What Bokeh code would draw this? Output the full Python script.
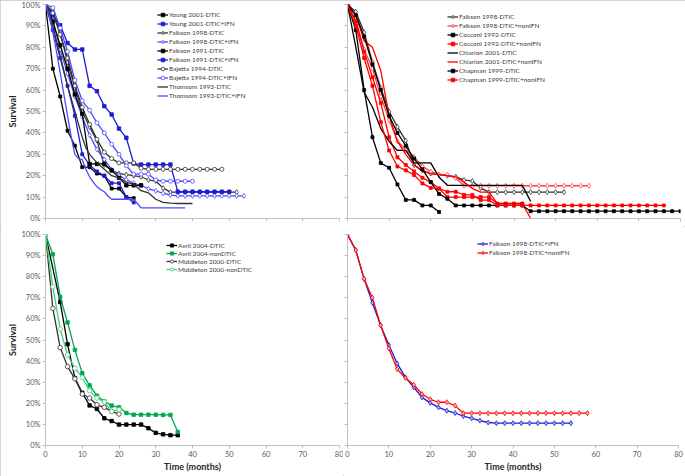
from bokeh.plotting import figure
from bokeh.models import Range1d, FixedTicker
from bokeh.layouts import column, row
from bokeh.embed import file_html
from bokeh.resources import INLINE

FONT = "Lato"

# ---------------- data (months, survival %) ----------------
# top-left panel
young_dtic_t = [0, 2, 4, 6, 8, 10, 12, 14, 16, 18, 20, 22, 24]
young_dtic_s = [100, 70, 57, 41, 34, 24, 24, 21, 20, 14, 14, 10, 9.5]
young_ifn_t = [0, 2, 4, 6, 8, 10, 12, 14, 16, 18, 20, 22, 24]
young_ifn_s = [100, 88, 75, 62, 48, 30, 25, 22, 20, 16.5, 16.5, 10, 7.5]
falk98_dtic_t = [0, 2, 4, 6, 8, 10, 12, 14, 16, 18, 20, 22, 24, 26, 28, 30, 32, 34, 36, 38, 40, 42, 44, 46, 48, 50, 52]
falk98_dtic_s = [100, 96.6, 87, 73, 61, 50, 42.8, 36.4, 25, 22.5, 21, 20.5, 20, 19.5, 18, 17.5, 14.2, 12.3, 12.3, 12.3, 12.3, 12.3, 12.3, 12.3, 12.3, 12.3, 12.3]
falk98_ifn_t = [0, 2, 4, 6, 8, 10, 12, 14, 16, 18, 20, 22, 24, 26, 28, 30, 32, 34, 36, 38, 40, 42, 44, 46, 48, 50, 52, 54]
falk98_ifn_s = [100, 92.6, 79, 67.7, 57, 47.6, 38.9, 32.3, 27.6, 22.8, 20.2, 18.1, 16.5, 15.4, 13.9, 12.9, 11.8, 10.9, 10.6, 10.6, 10.6, 10.6, 10.6, 10.6, 10.6, 10.6, 10.6, 10.6]
falk91_dtic_t = [0, 2, 4, 6, 8, 10, 12, 14, 16, 18, 20, 22, 24, 26]
falk91_dtic_s = [100, 92, 81, 70, 58, 49, 25.5, 25.5, 25.5, 22.5, 19, 15.5, 15.5, 15.5]
falk91_ifn_t = [0, 2, 4, 6, 8, 10, 12, 14, 16, 18, 20, 22, 24, 26, 28, 30, 32, 34, 36, 38, 40, 42, 44, 46, 48, 50]
falk91_ifn_s = [100, 95, 90.3, 82, 79, 79, 62, 59.5, 52.5, 48.6, 42, 37.7, 25.7, 25.2, 25.2, 25.2, 25.2, 25.2, 12.5, 12.5, 12.5, 12.5, 12.5, 12.5, 12.5, 12.5]
bajetta_dtic_t = [0, 2, 4, 6, 8, 10, 12, 14, 16, 18, 20, 22, 24, 26, 28, 30, 32, 34, 36, 38, 40, 42, 44, 46, 48]
bajetta_dtic_s = [100, 96, 86, 75, 62, 52, 44, 37, 31, 28, 26, 26, 26, 23.5, 23, 23, 23, 23, 23, 23, 23, 23, 23, 23, 23]
bajetta_ifn_t = [0, 2, 4, 6, 8, 10, 12, 14, 16, 18, 20, 22, 24, 26, 28, 30, 32, 34, 36, 38, 40]
bajetta_ifn_s = [100, 98.5, 89, 78, 64.6, 55, 50.6, 44.7, 40, 34.7, 30, 24.6, 20.7, 20.7, 20.7, 18, 17.4, 17.4, 17.4, 17.4, 17.4]
thomsom_dtic_t = [0, 1, 2, 3, 4, 5, 6, 7, 8, 9, 10, 11, 12, 13, 14, 16, 18, 20, 22, 24, 26, 28, 30, 32, 34, 36, 38, 40]
thomsom_dtic_s = [100, 96, 90, 83, 76, 69, 62, 56, 50, 44, 38, 33, 30, 28, 26, 23, 20, 19, 17, 16, 13, 12, 9, 7.5, 7.2, 7, 7, 7]
thomsom_ifn_t = [0, 1, 2, 3, 4, 5, 6, 7, 8, 9, 10, 11, 12, 13, 14, 15, 16, 17, 18, 20, 22, 24, 25, 26, 28, 30, 32, 34, 36, 38]
thomsom_ifn_s = [100, 95, 87, 78, 68, 58, 48, 38, 30, 28, 27.5, 23, 19.5, 17, 14.8, 13.5, 12.5, 10.5, 9, 9, 9, 9, 7, 5, 5, 5, 5, 5, 5, 5]

# top-right panel
falk98_non_t = [0, 2, 4, 6, 8, 10, 12, 14, 16, 18, 20, 22, 24, 26, 28, 30, 32, 34, 36, 38, 40, 42, 44, 46, 48, 50, 52, 54, 56, 58]
falk98_non_s = [100, 92.6, 79, 70.1, 57, 46, 36.2, 32, 28.8, 24.4, 21.9, 20.5, 20.5, 18.9, 15.3, 15.3, 15.3, 15.3, 15.3, 15.3, 15.3, 15.3, 15.3, 15.3, 15.3, 15.3, 15.3, 15.3, 15.3, 15.3]
cocconi_dtic_t = [0, 2, 4, 6, 8, 10, 12, 14, 16, 18, 20, 22]
cocconi_dtic_s = [100, 88, 60, 38, 25.9, 23.7, 15.9, 8.7, 8.7, 6.1, 6.1, 3]
cocconi_non_t = [0, 2, 4, 6, 8, 10, 12, 14, 16, 18, 20, 22, 24, 26, 28, 30, 32, 34, 36, 38, 40, 42]
cocconi_non_s = [100, 92, 78, 66, 54, 38, 28.6, 25, 22, 19, 17, 14, 10, 10, 10, 10, 10, 10, 7, 7, 7, 7]
chiarion_dtic_t = [0, 2, 4, 6, 8, 10, 12, 14, 16, 18, 20, 22, 24, 26, 28, 30, 32, 34, 36, 38, 40, 42, 44]
chiarion_dtic_s = [100, 80, 59, 52, 42, 36, 31.8, 31.8, 26, 26, 26, 19.3, 15.5, 15.5, 15.5, 15.5, 15.5, 15.5, 15.5, 15.5, 15.5, 15.5, 8]
chiarion_non_t = [0, 2, 4, 6, 8, 10, 12, 14, 16, 18, 20, 22, 24, 26, 28, 30, 32, 34, 36, 38, 40, 42, 44]
chiarion_non_s = [100, 95, 83, 80, 69, 48, 36, 30, 25, 22, 21, 20.5, 20, 19.5, 17, 14, 12.3, 12.3, 7, 7, 7, 7, 0]
chapman_dtic_t = [0, 2, 4, 6, 8, 10, 12, 14, 16, 18, 20, 22, 24, 26, 28, 30, 32, 34, 36, 38, 40, 42, 44, 46, 48, 50, 52, 54, 56, 58, 60, 62, 64, 66, 68, 70, 72, 74, 76, 78, 80]
chapman_dtic_s = [100, 95, 85, 72, 60, 48, 40, 34, 28, 23, 17, 11.5, 9.2, 6.1, 6.1, 6.1, 6.1, 6.1, 6.1, 6.1, 6.1, 6.1, 3.4, 3.4, 3.4, 3.4, 3.4, 3.4, 3.4, 3.4, 3.4, 3.4, 3.4, 3.4, 3.4, 3.4, 3.4, 3.4, 3.4, 3.4, 3.4]
chapman_non_t = [0, 2, 4, 6, 8, 10, 12, 14, 16, 18, 20, 22, 24, 26, 28, 30, 32, 34, 36, 38, 40, 42, 44, 46, 48, 50, 52, 54, 56, 58, 60, 62, 64, 66, 68, 70, 72, 74, 76]
chapman_non_s = [100, 90, 75, 62, 45, 31.8, 24.3, 22.5, 20.3, 16.4, 14.3, 14, 12.5, 12.5, 11, 11, 8.6, 8.6, 6.1, 6.1, 6.1, 6.1, 6.1, 6.1, 6.1, 6.1, 6.1, 6.1, 6.1, 6.1, 6.1, 6.1, 6.1, 6.1, 6.1, 6.1, 6.1, 6.1, 6.1]

# bottom-left panel
avril_dtic_t = [0, 4, 6, 8, 10, 12, 14, 16, 18, 20, 22, 24, 26, 28, 30, 32, 34, 36]
avril_dtic_s = [100, 68, 48, 32, 25, 19, 17.3, 12.9, 11.6, 9.9, 9.9, 9.9, 9.9, 8.2, 6, 5.3, 4.9, 4.9]
avril_non_t = [0, 2, 4, 6, 8, 10, 12, 14, 16, 18, 20, 22, 24, 26, 28, 30, 32, 34, 36]
avril_non_s = [100, 90.6, 70.4, 58.3, 45.3, 34.3, 28.5, 23.6, 20.9, 18.9, 18.1, 15.4, 14.6, 14.6, 14.6, 14.6, 14.5, 14.5, 6.4]
midd_dtic_t = [0, 2, 4, 6, 8, 10, 12, 14, 16, 18, 20]
midd_dtic_s = [100, 65, 46.4, 37.4, 31.6, 24.4, 22.5, 19.3, 18.1, 16.2, 14.9]
midd_non_t = [0, 2, 4, 6, 8, 10, 12, 14, 16, 18, 20]
midd_non_s = [100, 75.2, 55.2, 42.9, 36.6, 32.2, 25.9, 22.5, 20.6, 16.2, 17]

x_ticks = [0, 10, 20, 30, 40, 50, 60, 70, 80]
y_ticks = [0, 10, 20, 30, 40, 50, 60, 70, 80, 90, 100]
y_tick_labels = ["0%", "10%", "20%", "30%", "40%", "50%", "60%", "70%", "80%", "90%", "100%"]

BLACK = "#000000"
DGRAY = "#333333"
BLUE = "#1c1cd4"
LBLUE = "#4a4aff"
RED = "#ff0000"
LRED = "#ff4040"
GREEN = "#00a651"
LGREEN = "#45d07a"


def make_fig(width, height, left, right, top, bottom, ylabels, xlabels):
    p = figure(width=width, height=height, x_range=Range1d(0, 80), y_range=Range1d(0, 100),
               output_backend="svg", toolbar_location=None,
               min_border_left=left, min_border_right=right,
               min_border_top=top, min_border_bottom=bottom)
    p.outline_line_color = None
    p.grid.visible = False
    p.xaxis.ticker = FixedTicker(ticks=x_ticks)
    p.yaxis.ticker = FixedTicker(ticks=y_ticks)
    for ax in p.axis:
        ax.axis_line_color = "#c0c0c0"
        ax.major_tick_line_color = "#c0c0c0"
        ax.major_tick_in = 0
        ax.major_tick_out = 3
        ax.minor_tick_line_color = None
        ax.major_label_text_font = FONT
        ax.major_label_text_font_size = "7.5px"
        ax.major_label_text_color = "#595959"
        ax.major_label_standoff = 2
        ax.axis_label_text_font = FONT
        ax.axis_label_text_font_style = "bold"
        ax.axis_label_text_font_size = "9px"
        ax.axis_label_text_color = "#262626"
        ax.axis_label_standoff = 0
    if ylabels:
        p.yaxis.major_label_overrides = {t: l for t, l in zip(y_ticks, y_tick_labels)}
        p.yaxis.axis_label = "Survival"
    else:
        p.yaxis.major_label_overrides = {t: "" for t in y_ticks}
        p.yaxis.major_label_text_font_size = "1px"
        p.yaxis.major_label_standoff = 0
    if xlabels:
        p.xaxis.axis_label = "Time (months)"
        p.xaxis.axis_label_standoff = 1
    else:
        p.xaxis.major_label_overrides = {t: "" for t in x_ticks}
        p.xaxis.major_label_text_font_size = "1px"
        p.xaxis.major_label_standoff = 0
    return p


def series(p, t, s, label, color, marker=None, size=3, fill=None, lw=1.3):
    p.line(t, s, line_color=color, line_width=lw, legend_label=label)
    if marker:
        p.scatter(t, s, marker=marker, size=size, line_color=color, line_width=0.8,
                  fill_color=fill if fill else color, legend_label=label)


def style_legend(p, loc, fsize="6.5px", item_h=9):
    lg = p.legend[0]
    lg.location = loc
    lg.label_text_font = FONT
    lg.label_text_font_size = fsize
    lg.label_text_color = "#404040"
    lg.glyph_width = 11
    lg.glyph_height = item_h
    lg.label_height = item_h
    lg.label_standoff = 1
    lg.spacing = 0
    lg.padding = 0
    lg.margin = 0
    lg.border_line_color = None
    lg.background_fill_alpha = 0


# top-left  (frame x 45..339, y 4..218)
p1 = make_fig(343, 226, 45, 4, 4, 8, True, False)
series(p1, young_dtic_t, young_dtic_s, "Young 2001-DTIC", BLACK, "square", 3)
series(p1, young_ifn_t, young_ifn_s, "Young 2001-DTIC+IFN", BLUE, "square", 3)
series(p1, falk98_dtic_t, falk98_dtic_s, "Falkson 1998-DTIC", DGRAY, "diamond", 5, "white")
series(p1, falk98_ifn_t, falk98_ifn_s, "Falkson 1998-DTIC+IFN", LBLUE, "diamond", 5, "white")
series(p1, falk91_dtic_t, falk91_dtic_s, "Falkson 1991-DTIC", BLACK, "square", 3.5)
series(p1, falk91_ifn_t, falk91_ifn_s, "Falkson 1991-DTIC+IFN", BLUE, "square", 3.5)
series(p1, bajetta_dtic_t, bajetta_dtic_s, "Bajetta 1994-DTIC", DGRAY, "circle", 4, "white")
series(p1, bajetta_ifn_t, bajetta_ifn_s, "Bajetta 1994-DTIC+IFN", LBLUE, "circle", 4, "white")
series(p1, thomsom_dtic_t, thomsom_dtic_s, "Thomsom 1993-DTIC", DGRAY)
series(p1, thomsom_ifn_t, thomsom_ifn_s, "Thomsom 1993-DTIC+IFN", LBLUE)
style_legend(p1, (112, 118))

# top-right  (frame x 347..680, y 4..218)
p2 = make_fig(342, 226, 4, 5, 4, 8, False, False)
series(p2, falk98_dtic_t, falk98_dtic_s, "Falkson 1998-DTIC", DGRAY, "diamond", 5, "white")
series(p2, falk98_non_t, falk98_non_s, "Falkson 1998-DTIC+nonIFN", LRED, "diamond", 5, "white")
series(p2, cocconi_dtic_t, cocconi_dtic_s, "Cocconi 1992-DTIC", BLACK, "square", 3)
series(p2, cocconi_non_t, cocconi_non_s, "Cocconi 1992-DTIC+nonIFN", RED, "square", 3)
series(p2, chiarion_dtic_t, chiarion_dtic_s, "Chiarion 2001-DTIC", BLACK)
series(p2, chiarion_non_t, chiarion_non_s, "Chiarion 2001-DTIC+nonIFN", RED)
series(p2, chapman_dtic_t, chapman_dtic_s, "Chapman 1999-DTIC", BLACK, "square", 3)
series(p2, chapman_non_t, chapman_non_s, "Chapman 1999-DTIC+nonIFN", RED, "square", 3)
style_legend(p2, (100, 134))

# bottom-left  (frame x 45..339, y 234..446)
p3 = make_fig(343, 250, 45, 4, 8, 30, True, True)
series(p3, avril_dtic_t, avril_dtic_s, "Avril 2004-DTIC", BLACK, "square", 3.5)
series(p3, avril_non_t, avril_non_s, "Avril 2004-nonDTIC", GREEN, "square", 3.5)
series(p3, midd_dtic_t, midd_dtic_s, "Middleton 2000-DTIC", DGRAY, "circle", 4.5, "white")
series(p3, midd_non_t, midd_non_s, "Middleton 2000-nonDTIC", LGREEN, "circle", 4.5, "white")
style_legend(p3, (121, 172), "6.5px", 8)

# bottom-right  (frame x 347..678, y 233..445)
p4 = make_fig(342, 250, 4, 7, 7, 31, False, True)
series(p4, falk98_ifn_t, falk98_ifn_s, "Falkson 1998-DTIC+IFN", BLUE, "diamond", 5, "#b0b0ff")
series(p4, falk98_non_t, falk98_non_s, "Falkson 1998-DTIC+nonIFN", RED, "diamond", 5, "#ffb0b0")
style_legend(p4, (130, 188), "6.5px", 9)

layout = column(row(p1, p2), row(p3, p4),
                styles={"outline": "1px solid #c8c8c8", "outline-offset": "-1px"})
open("out.html", "w").write(file_html(layout, INLINE))
